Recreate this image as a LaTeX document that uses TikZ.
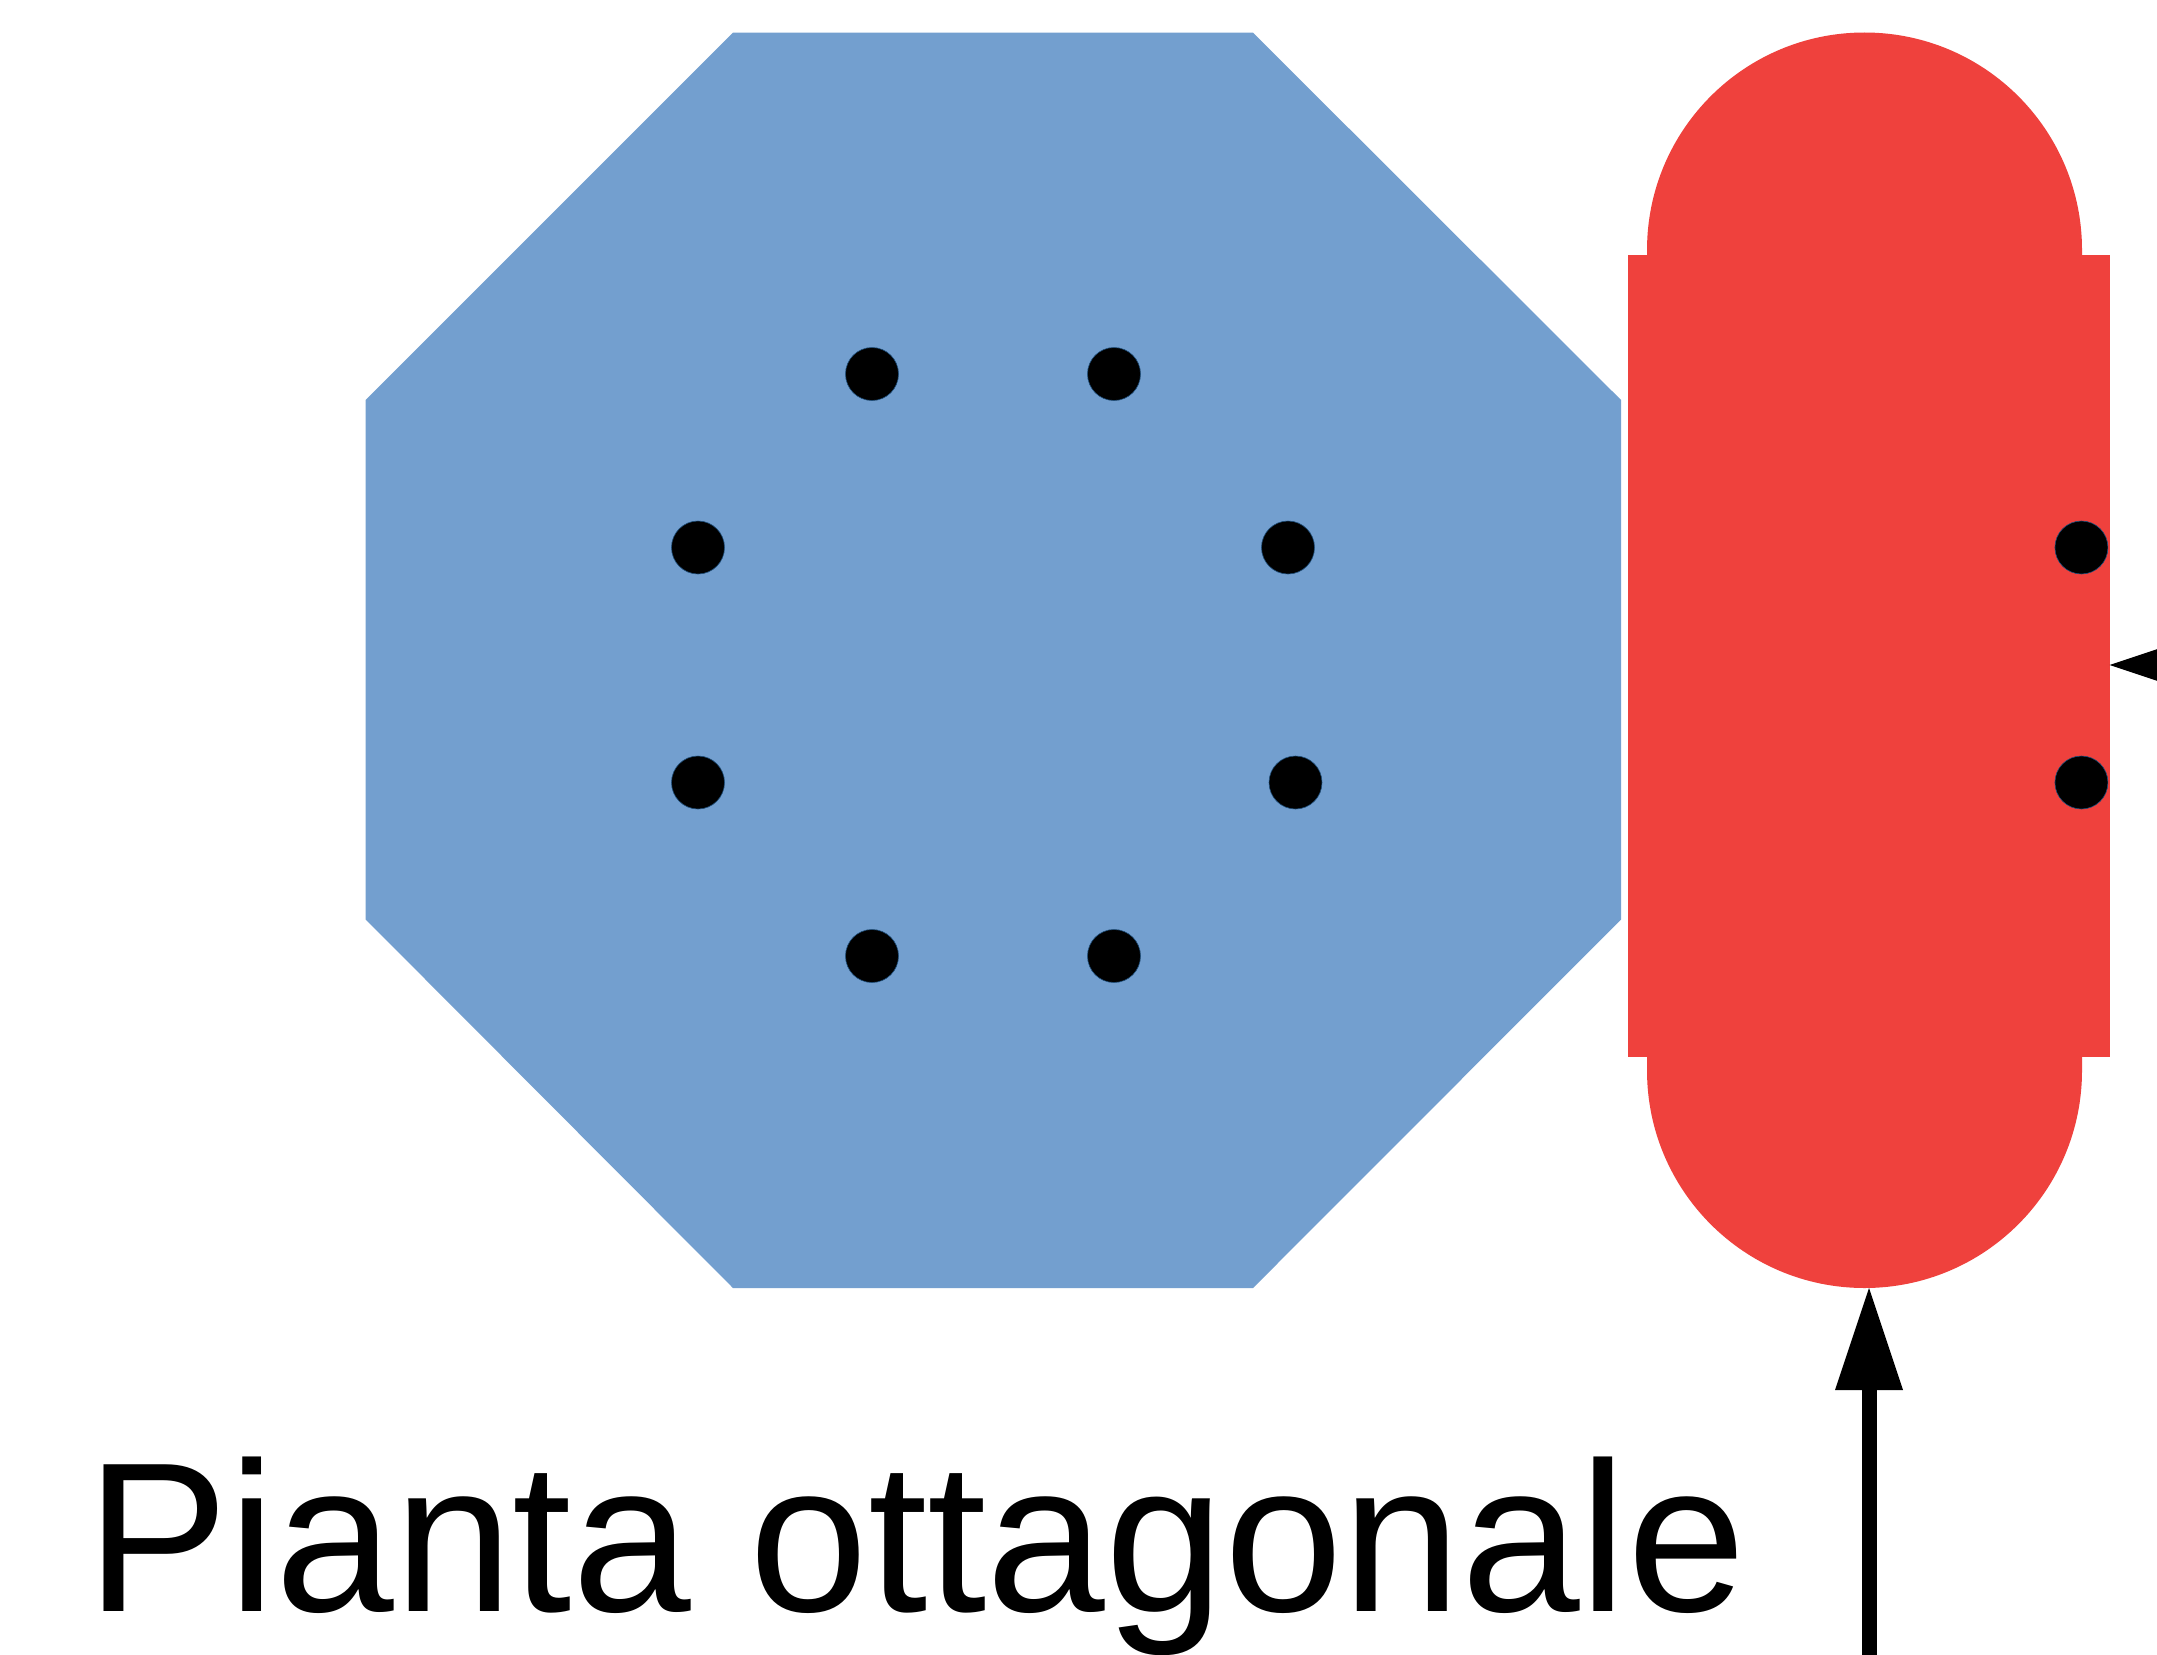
\documentclass[tikz,border=0pt]{standalone}
\usepackage{fontspec}
\setmainfont{Liberation Sans}
\usetikzlibrary{arrows.meta}
\definecolor{planblue}{HTML}{739FCF}
\definecolor{planred}{HTML}{EF413D}
\definecolor{dotrim}{HTML}{1F4E79}
\tikzset{
  octa/.style={fill=planblue},
  redpart/.style={fill=planred},
  pillar/.style={circle,fill=black,draw=dotrim,line width=0.6pt,minimum size=53pt,inner sep=0pt,outer sep=0pt},
  bigarrow/.style={draw=black,line width=15pt,-{Triangle[length=102pt,width=68pt,line width=0pt]}},
  caption/.style={anchor=base west,inner sep=0pt,outer sep=0pt,font=\fontsize{213.3}{213.3}\selectfont}
}
\begin{document}
\begin{tikzpicture}[x=1pt,y=-1pt]
\clip (0,0) rectangle (2157,1654);
\fill[white] (0,0) rectangle (2157,1654);
% octagon
\fill[octa] (733,32.7) -- (1253,32.7) -- (1621,400) -- (1621,919.5) -- (1253,1288) -- (733,1288) -- (365.7,919.5) -- (365.7,400) -- cycle;
% red plan
\fill[redpart,rounded corners=217.5pt] (1647,32.5) rectangle (2082,1288);
\fill[redpart] (1627.7,255) rectangle (2110,1057);
% dots
\node[pillar] (d1) at (872,374) {};
\node[pillar] (d2) at (1114,374) {};
\node[pillar] (d3) at (698,547.5) {};
\node[pillar] (d4) at (1288,547.5) {};
\node[pillar] (d5) at (698,782.5) {};
\node[pillar] (d6) at (1295.5,782.5) {};
\node[pillar] (d7) at (872,956) {};
\node[pillar] (d8) at (1114,956) {};
\node[pillar] (d9) at (2081.4,547.5) {};
\node[pillar] (d10) at (2081.4,782.5) {};
% arrows
\coordinate (tipS) at (1869,1288);
\coordinate (tailS) at (1869,1700);
\coordinate (tipE) at (2109.5,665);
\coordinate (tailE) at (2400,665);
\draw[bigarrow] (tailS) -- (tipS);
\draw[bigarrow] (tailE) -- (tipE);
% caption
\node[caption] (cap) at (86,1611) {Pianta ottagonale};
\end{tikzpicture}
\end{document}
